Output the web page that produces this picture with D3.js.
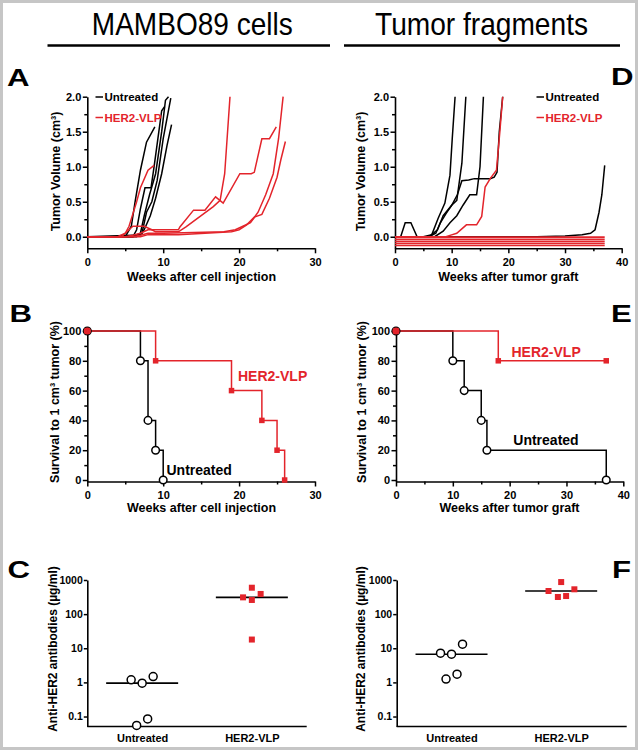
<!DOCTYPE html>
<html><head><meta charset="utf-8">
<script src="https://cdn.jsdelivr.net/npm/d3@7"></script>
<style>
body{margin:0;background:#fff}
svg{display:block}
text{font-family:"Liberation Sans",Arial,Helvetica,sans-serif}
</style>
</head><body>
<svg id="c" width="638" height="750"></svg>
<script>
// ---------------- DATA ----------------
// Panel A: tumor growth after MAMBO89 cell injection, [week, volume cm3]
const cellUntreated = [
  [[0,0],[5,0],[5.8,0.15],[6.3,0.5],[7,0.95],[7.8,1.35],[8.9,1.57]],
  [[0,0],[6,0],[6.5,0.1],[7,0.4],[7.6,0.7],[8.4,0.7],[8.8,1.0],[9.3,1.4],[9.8,1.8],[10.2,1.86]],
  [[0,0],[6,0],[7,0.05],[7.5,0.3],[8.2,0.6],[9,0.9],[9.8,1.5],[10.3,1.95],[10.7,2.0]],
  [[0,0],[6.5,0],[7.2,0.05],[7.8,0.35],[8.5,0.5],[9.2,0.8],[10,1.4],[11,1.98]],
  [[0,0],[6,0.02],[7,0.02],[7.5,0.1],[8.3,0.3],[9,0.55],[9.8,0.9],[10.5,1.3],[11.1,1.6]]
];
const cellHer2 = [
  [[0,0],[4,0],[5,0.05],[5.5,0.15],[6.5,0.5],[7,0.7],[8,0.95],[8.8,1.02]],
  [[0,0],[4.5,0],[5.5,0.1],[6,0.15],[7.5,0.15],[8.5,0.1],[9,0.07],[12,0.07],[13,0.14],[16.6,0.43],[17.5,0.52],[18.1,0.9],[18.8,2.0]],
  [[0,0],[5,0],[6,0.02],[7,0.05],[8,0.1],[12,0.1],[12.2,0.14],[14,0.38],[15.5,0.38],[16.9,0.57],[17.9,0.48],[20.1,0.9],[21.6,0.9],[22,0.92],[23,1.4],[24,1.4],[24.9,1.57]],
  [[0,0],[6,0],[7,0.02],[8,0.05],[10,0.05],[18,0.07],[19.5,0.1],[20.5,0.15],[21.5,0.2],[22.5,0.35],[23.5,0.6],[24.5,0.9],[25.2,1.4],[25.8,2.0]],
  [[0,0],[7,0],[8,0.03],[12,0.03],[19,0.07],[20,0.1],[21,0.17],[22,0.28],[23,0.32],[24,0.55],[25,0.85],[25.5,1.1],[26.1,1.36]]
];
// Panel D: tumor growth after tumor graft
const graftUntreated = [
  [[0,0],[5,0],[6.5,0.03],[7.6,0.26],[8.8,0.48],[9.7,0.88],[10.1,1.4],[10.6,2.0]],
  [[0,0],[6,0],[7.2,0.05],[8,0.2],[9,0.33],[10,0.45],[10.9,0.52],[11.8,1.05],[12.5,2.0]],
  [[0,0],[7,0],[8.5,0.08],[9.7,0.2],[10.9,0.3],[12,0.45],[13.2,0.6],[14.4,0.6],[15,1.0],[15.6,2.0]],
  [[0,0],[6,0],[7.5,0.1],[8.5,0.3],[10,0.45],[11,0.6],[11.8,0.8],[13,0.81],[14,0.83],[16.8,0.83],[17.5,0.85],[18,0.92],[18.4,1.5],[19,2.0]],
  [[1,0],[1.8,0.2],[2.8,0.2],[3.9,0],[25,0],[30,0.01],[33,0.03],[34.5,0.05],[35.3,0.1],[36,0.35],[36.5,0.6],[37,1.02]]
];
const graftHer2Grow = [[0,0],[9,0],[9.7,0.02],[10.9,0.05],[12.6,0.17],[14.4,0.17],[15.3,0.29],[15.9,0.71],[16.8,0.83],[17.9,0.95],[18.5,1.5],[19,2.0]];
const graftHer2FlatLevels = [-0.005,-0.035,-0.065,-0.095,-0.125];
const graftHer2FlatEnd = 37;

// Panel B: survival (cell injection)
const survCellUntWeeks = [0,7,8,9,10];
const survCellUntPct   = [100,80,40,20,0];
const survCellHerWeeks = [0,9,19,23,25,26];
const survCellHerPct   = [100,80,60,40,20,0];
// Panel E: survival (tumor graft)
const survGraftUntWeeks = [0,10,12,15,16,37];
const survGraftUntPct   = [100,80,60,40,20,0];
const survGraftHerWeeks = [0,18,37];
const survGraftHerPct   = [100,80,80];

// Panels C & F: anti-HER2 antibodies (ug/ml)
const groups = ["Untreated","HER2-VLP"];
const abCellUnt  = [1.19,0.95,1.48,0.055,0.085];
const abCellHer  = [594,390,310,260,18];
const abGraftUnt = [7.2,6.7,13.2,1.25,1.74];
const abGraftHer = [870,476,534,318,339];
// horizontal spread of the dots (in dot widths)
const spreadCellUnt  = [-1,0,1,-0.5,0.5];
const spreadCellHer  = [0,0.8,-0.8,0,0];
const spreadGraftUnt = [-1,0,1,-0.5,0.5];
const spreadGraftHer = [0,-1.15,1.2,-0.3,0.45];

const volTicks = [0,0.5,1.0,1.5,2.0];
const volMinor = [0.25,0.75,1.25,1.75];
const survTicks = [0,20,40,60,80,100];
const survMinor = [10,30,50,70,90];
const weeks30 = [0,10,20,30], weeks30Minor = [5,15,25];
const weeks40 = [0,10,20,30,40], weeks40Minor = [5,15,25,35];
const logTicks = [0.1,1,10,100,1000];

// ---------------- DRAWING ----------------
const RED = "#e3242b";
const svg = d3.select("#c");
svg.append("rect").attr("x",1.5).attr("y",1.5).attr("width",635).attr("height",747)
  .attr("fill","#fff").attr("stroke","#c6c6c6").attr("stroke-width",3);

// Headers
function header(cx, w, label, x1, x2){
  svg.append("text").attr("x",cx).attr("y",34.5).attr("text-anchor","middle")
    .attr("textLength",w).attr("lengthAdjust","spacingAndGlyphs")
    .style("font-size","32px").text(label);
  svg.append("line").attr("x1",x1).attr("x2",x2).attr("y1",45.5).attr("y2",45.5)
    .attr("stroke","#000").attr("stroke-width",2.5);
}
header(192.3, 201, "MAMBO89 cells", 47.5, 330);
header(481.5, 213, "Tumor fragments", 344, 620);

function panelLabel(x, y, t){
  svg.append("text").attr("transform",`translate(${x},${y}) scale(1.3,1)`)
    .style("font-size","24px").style("font-weight","bold").text(t);
}
panelLabel(7, 85.7, "A"); panelLabel(9.5, 321.7, "B"); panelLabel(7.5, 578.3, "C");
panelLabel(611, 85, "D"); panelLabel(611, 321.7, "E"); panelLabel(612, 578.3, "F");

function styleAxis(g, fs){
  g.selectAll("path.domain").attr("stroke","#000").attr("stroke-width",1.6);
  g.selectAll(".tick line").attr("stroke","#000").attr("stroke-width",1.5);
  g.selectAll(".tick text").attr("fill","#000").style("font-size",fs+"px").style("font-weight","bold")
    .style("font-family",'"Liberation Sans",Arial,sans-serif');
}
function linAxes(x, y, xT, xM, yT, yM, yFmt, xPad){
  const y0 = y.range()[0], x0 = x.range()[0];
  const gx = svg.append("g").attr("transform",`translate(0,${y0})`)
    .call(d3.axisBottom(x).tickValues(xT).tickSize(5).tickSizeOuter(0).tickPadding(xPad).tickFormat(d3.format("d")));
  styleAxis(gx, 11);
  const gxm = svg.append("g").attr("transform",`translate(0,${y0})`)
    .call(d3.axisBottom(x).tickValues(xM).tickSize(3).tickFormat(""));
  gxm.select("path.domain").remove(); styleAxis(gxm, 11);
  const gy = svg.append("g").attr("transform",`translate(${x0},0)`)
    .call(d3.axisLeft(y).tickValues(yT).tickSize(4.5).tickSizeOuter(0).tickPadding(1.5).tickFormat(yFmt));
  styleAxis(gy, 11);
  const gym = svg.append("g").attr("transform",`translate(${x0},0)`)
    .call(d3.axisLeft(y).tickValues(yM).tickSize(3).tickFormat(""));
  gym.select("path.domain").remove(); styleAxis(gym, 11);
}
function xTitle(cx, y, t){
  svg.append("text").attr("x",cx).attr("y",y).attr("text-anchor","middle")
    .style("font-size","12.5px").style("font-weight","bold").text(t);
}
function yTitle(x, cy, t, fs){
  svg.append("text").attr("transform",`translate(${x},${cy}) rotate(-90)`).attr("text-anchor","middle")
    .style("font-size",(fs||12.5)+"px").style("font-weight","bold").text(t);
}

// ---- Panel A ----
const xA = d3.scaleLinear().domain([0,30]).range([87.3,315]);
const yA = d3.scaleLinear().domain([-0.165,2.0]).range([248.3,96.7]);
const lineA = d3.line().x(d=>xA(d[0])).y(d=>yA(d[1]));
linAxes(xA, yA, weeks30, weeks30Minor, volTicks, volMinor, d3.format(".1f"), 5);
svg.append("g").selectAll("path").data(cellUntreated).join("path")
  .attr("d",lineA).attr("fill","none").attr("stroke","#000").attr("stroke-width",1.5);
svg.append("g").selectAll("path").data(cellHer2).join("path")
  .attr("d",lineA).attr("fill","none").attr("stroke",RED).attr("stroke-width",1.5);
xTitle(201.5, 280.5, "Weeks after cell injection");
yTitle(59.5, 171.5, "Tumor Volume (cm³)");
function legend(x, y){
  [["Untreated","#000"],["HER2-VLP",RED]].forEach((d,i)=>{
    const yy = y + i*20.5;
    svg.append("line").attr("x1",x).attr("x2",x+7.5).attr("y1",yy).attr("y2",yy)
      .attr("stroke",d[1]).attr("stroke-width",1.5);
    svg.append("text").attr("x",x+9).attr("y",yy+4.2).attr("fill",d[1])
      .style("font-size","11.5px").style("font-weight","bold").text(d[0]);
  });
}
legend(95.5, 97);

// ---- Panel D ----
const xD = d3.scaleLinear().domain([0,40]).range([395,621.7]);
const yD = d3.scaleLinear().domain([-0.165,2.0]).range([248.3,96.7]);
const lineD = d3.line().x(d=>xD(d[0])).y(d=>yD(d[1]));
linAxes(xD, yD, weeks40, weeks40Minor, volTicks, volMinor, d3.format(".1f"), 5);
svg.append("g").selectAll("path").data(graftUntreated).join("path")
  .attr("d",lineD).attr("fill","none").attr("stroke","#000").attr("stroke-width",1.5);
svg.append("g").selectAll("line").data(graftHer2FlatLevels).join("line")
  .attr("x1",xD(0)).attr("x2",xD(graftHer2FlatEnd)).attr("y1",d=>yD(d)).attr("y2",d=>yD(d))
  .attr("stroke",RED).attr("stroke-width",1.6);
svg.append("path").datum(graftHer2Grow).attr("d",lineD).attr("fill","none")
  .attr("stroke",RED).attr("stroke-width",1.5);
xTitle(508.3, 280.5, "Weeks after tumor graft");
yTitle(365, 171.5, "Tumor Volume (cm³)");
legend(536.5, 97);

// ---- Survival panels ----
function survival(x, y, uw, up, hw, hp){
  const line = d3.line().x(d=>x(d[0])).y(d=>y(d[1])).curve(d3.curveStepAfter);
  const U = uw.map((w,i)=>[w,up[i]]), H = hw.map((w,i)=>[w,hp[i]]);
  svg.append("path").datum(U).attr("d",line).attr("fill","none").attr("stroke","#000").attr("stroke-width",1.5);
  svg.append("path").datum(H).attr("d",line).attr("fill","none").attr("stroke",RED).attr("stroke-width",1.5);
  svg.append("g").selectAll("circle").data(U).join("circle")
    .attr("cx",d=>x(d[0])).attr("cy",d=>y(d[1])).attr("r",3.8)
    .attr("fill","#fff").attr("stroke","#000").attr("stroke-width",1.5);
  const s = 5.5;
  svg.append("g").selectAll("rect").data(H).join("rect")
    .attr("x",d=>x(d[0])-s/2).attr("y",d=>y(d[1])-s/2).attr("width",s).attr("height",s)
    .attr("fill",RED);
  svg.append("circle").attr("cx",x(H[0][0])).attr("cy",y(H[0][1])).attr("r",3.6).attr("fill",RED);
}
const xB = d3.scaleLinear().domain([0,30]).range([87.3,315]);
const yB = d3.scaleLinear().domain([-1,100]).range([481.5,331]);
linAxes(xB, yB, weeks30, weeks30Minor, survTicks, survMinor, d3.format("d"), 4.5);
survival(xB, yB, survCellUntWeeks, survCellUntPct, survCellHerWeeks, survCellHerPct);
xTitle(201.5, 511.5, "Weeks after cell injection");
yTitle(58.5, 402, "Survival to 1 cm³ tumor (%)");
svg.append("text").attr("x",238).attr("y",381).attr("fill",RED).style("font-size","14px").style("font-weight","bold").text("HER2-VLP");
svg.append("text").attr("x",166.5).attr("y",475).attr("fill","#000").style("font-size","14px").style("font-weight","bold").text("Untreated");

const xE = d3.scaleLinear().domain([0,40]).range([396,623.3]);
const yE = d3.scaleLinear().domain([-1,100]).range([481.5,331]);
linAxes(xE, yE, weeks40, weeks40Minor, survTicks, survMinor, d3.format("d"), 4.5);
survival(xE, yE, survGraftUntWeeks, survGraftUntPct, survGraftHerWeeks, survGraftHerPct);
xTitle(509.5, 511.5, "Weeks after tumor graft");
yTitle(365.5, 402, "Survival to 1 cm³ tumor (%)");
svg.append("text").attr("x",511.5).attr("y",356.5).attr("fill",RED).style("font-size","14px").style("font-weight","bold").text("HER2-VLP");
svg.append("text").attr("x",513.3).attr("y",445).attr("fill","#000").style("font-size","14px").style("font-weight","bold").text("Untreated");

// ---- Antibody panels ----
function antibody(xr, axisEnd, yTitleX, unt, her, su, sh){
  const y = d3.scaleLog().domain([0.051,1000]).range([726.5,580]);
  const x = d3.scalePoint().domain(groups).range(xr).padding(0.5);
  const gy = svg.append("g").attr("transform",`translate(${xr[0]},0)`)
    .call(d3.axisLeft(y).tickValues(logTicks).tickSize(3.5).tickSizeOuter(0).tickPadding(1).tickFormat(d=>String(d)));
  styleAxis(gy, 10.5);
  svg.append("line").attr("x1",xr[0]).attr("x2",axisEnd).attr("y1",y.range()[0]).attr("y2",y.range()[0])
    .attr("stroke","#000").attr("stroke-width",1.6);
  const gx = svg.append("g").attr("transform",`translate(0,${y.range()[0]})`)
    .call(d3.axisBottom(x).tickSize(0).tickPadding(7.2));
  gx.select("path.domain").remove(); styleAxis(gx, 11);
  const unit = 11, half = 36;
  [[unt,groups[0]],[her,groups[1]]].forEach(([vals,g])=>{
    const m = d3.median(vals);
    svg.append("line").attr("x1",x(g)-half).attr("x2",x(g)+half).attr("y1",y(m)).attr("y2",y(m))
      .attr("stroke","#000").attr("stroke-width",1.6);
  });
  svg.append("g").selectAll("circle").data(unt).join("circle")
    .attr("cx",(d,i)=>x(groups[0])+su[i]*unit).attr("cy",d=>y(d)).attr("r",4)
    .attr("fill","#fff").attr("stroke","#000").attr("stroke-width",1.5);
  const s = 6;
  svg.append("g").selectAll("rect").data(her).join("rect")
    .attr("x",(d,i)=>x(groups[1])+sh[i]*unit-s/2).attr("y",d=>y(d)-s/2).attr("width",s).attr("height",s)
    .attr("fill",RED);
  yTitle(yTitleX, 649, "Anti-HER2 antibodies (µg/ml)", 12);
}
antibody([87.3,306.7], 306.7, 56.5, abCellUnt, abCellHer, spreadCellUnt, spreadCellHer);
antibody([396.7,616], 626.7, 365, abGraftUnt, abGraftHer, spreadGraftUnt, spreadGraftHer);
</script>
</body></html>
